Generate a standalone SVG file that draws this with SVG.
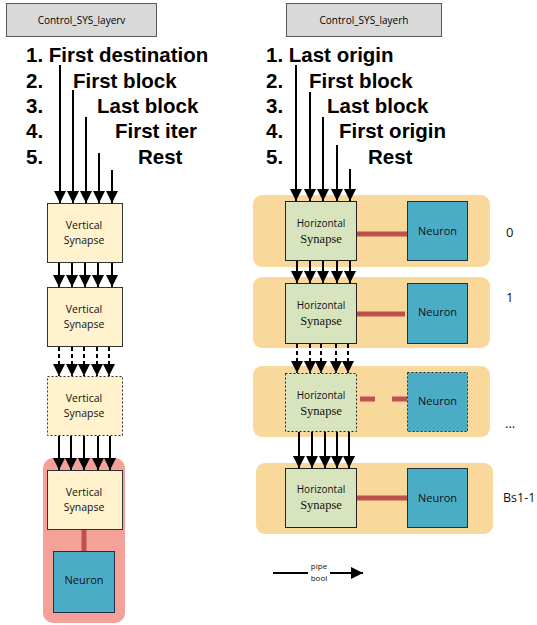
<svg xmlns="http://www.w3.org/2000/svg" width="537" height="625" viewBox="0 0 537 625">
<style>
.ctl{fill:#d9d9d9;stroke:#595959;stroke-width:1}
.ctlt{font-family:"Open Sans","Liberation Sans",sans-serif;font-size:10px;fill:#000}
.big{font-family:"Liberation Sans",Arial,sans-serif;font-size:20.5px;font-weight:bold;fill:#000}
.vs{fill:#fff2cc;stroke:#333;stroke-width:1}
.hs{fill:#d7e4bd;stroke:#222;stroke-width:1}
.nr{fill:#4bacc6;stroke:#1e3040;stroke-width:1}
.dot{stroke-dasharray:2 2}
.band{fill:#f9d89b}
.redband{fill:#f4a199}
.st{font-family:"Open Sans","Liberation Sans",sans-serif;font-size:10.5px;fill:#111;text-anchor:middle}
.ht{font-family:"Open Sans","Liberation Sans",sans-serif;font-size:10px;fill:#111;text-anchor:middle}
.ser{font-family:"Liberation Serif","Times New Roman",serif;font-size:12.5px;fill:#111;text-anchor:middle}
.nt{font-family:"Open Sans","Liberation Sans",sans-serif;font-size:11px;fill:#111;text-anchor:middle}
.lbl{font-family:"Open Sans","Liberation Sans",sans-serif;font-size:13px;fill:#111}
.leg{font-family:"Open Sans","Liberation Sans",sans-serif;font-size:8px;fill:#111;text-anchor:middle}
.ar{stroke:#000;stroke-width:2;fill:none;marker-end:url(#ah)}
.ard{stroke:#000;stroke-width:2;fill:none;stroke-dasharray:4 3;marker-end:url(#ah)}
.conn{stroke:#c0504d;stroke-width:5;fill:none}
</style>
<defs>
<marker id="ah" markerUnits="userSpaceOnUse" markerWidth="12" markerHeight="12" viewBox="0 0 10 10" refX="10" refY="5" orient="auto">
<path d="M0,0 L10,5 L0,10 z" fill="#000"/>
</marker>
</defs>

<!-- Left control -->
<g id="ctl_v">
<rect class="ctl" x="6.5" y="3.5" width="150" height="33"/>
<text class="ctlt" x="81.5" y="24" text-anchor="middle">Control_SYS_layerv</text>
</g>
<g id="list_v">
<text class="big" x="26" y="62">1. First destination</text>
<text class="big" x="26" y="88">2.</text><text class="big" x="73" y="88">First block</text>
<text class="big" x="26" y="113">3.</text><text class="big" x="97" y="113">Last block</text>
<text class="big" x="26" y="138">4.</text><text class="big" x="115" y="138">First iter</text>
<text class="big" x="26" y="164">5.</text><text class="big" x="138" y="164">Rest</text>
</g>

<!-- Right control -->
<g id="ctl_h">
<rect class="ctl" x="286.5" y="3.5" width="155" height="33"/>
<text class="ctlt" x="364" y="24" text-anchor="middle">Control_SYS_layerh</text>
</g>
<g id="list_h">
<text class="big" x="266" y="62">1. Last origin</text>
<text class="big" x="266" y="88">2.</text><text class="big" x="309" y="88">First block</text>
<text class="big" x="266" y="113">3.</text><text class="big" x="327" y="113">Last block</text>
<text class="big" x="266" y="138">4.</text><text class="big" x="339" y="138">First origin</text>
<text class="big" x="266" y="164">5.</text><text class="big" x="368" y="164">Rest</text>
</g>

<!-- Left column -->
<g id="redband"><rect class="redband" x="43" y="458" width="82" height="165" rx="10"/></g>
<g id="vsyn1"><rect class="vs" x="47.5" y="203.5" width="75" height="59"/>
<text class="st" x="84" y="229">Vertical</text><text class="st" x="84" y="244">Synapse</text></g>
<g id="vsyn2"><rect class="vs" x="47.5" y="287.5" width="75" height="59"/>
<text class="st" x="84" y="313">Vertical</text><text class="st" x="84" y="328">Synapse</text></g>
<g id="vsyn3"><rect class="vs dot" x="47.5" y="376.5" width="75" height="59"/>
<text class="st" x="84" y="402">Vertical</text><text class="st" x="84" y="417">Synapse</text></g>
<g id="vsyn4"><rect class="vs" x="47.5" y="470.5" width="75" height="59"/>
<text class="st" x="84" y="496">Vertical</text><text class="st" x="84" y="511">Synapse</text></g>
<g id="vneuron"><rect class="nr" x="53.5" y="551.5" width="61" height="61"/>
<text class="nt" x="84" y="584">Neuron</text></g>

<!-- Right column -->
<g id="row0"><rect class="band" x="253" y="195" width="237" height="72" rx="9"/>
<g id="hsyn0"><rect class="hs" x="285.5" y="201.5" width="71" height="59"/>
<text class="ht" x="321" y="227">Horizontal</text><text class="ser" x="321" y="243">Synapse</text></g>
<g id="hneu0"><rect class="nr" x="407.5" y="201.5" width="60" height="59"/>
<text class="nt" x="437.5" y="235">Neuron</text></g>
<text class="lbl" x="506" y="237">0</text></g>

<g id="row1"><rect class="band" x="253" y="277" width="237" height="71" rx="9"/>
<g id="hsyn1"><rect class="hs" x="285.5" y="283.5" width="71" height="60"/>
<text class="ht" x="321" y="309">Horizontal</text><text class="ser" x="321" y="325">Synapse</text></g>
<g id="hneu1"><rect class="nr" x="407.5" y="283.5" width="60" height="60"/>
<text class="nt" x="437.5" y="316">Neuron</text></g>
<text class="lbl" x="506" y="302">1</text></g>

<g id="row2"><rect class="band" x="253" y="366" width="237" height="71" rx="9"/>
<g id="hsyn2"><rect class="hs dot" x="285.5" y="373.5" width="71" height="58"/>
<text class="ht" x="321" y="399">Horizontal</text><text class="ser" x="321" y="415">Synapse</text></g>
<g id="hneu2"><rect class="nr dot" x="407.5" y="372.5" width="60" height="59"/>
<text class="nt" x="437.5" y="405">Neuron</text></g>
<text class="lbl" x="505" y="428">...</text></g>

<g id="row3"><rect class="band" x="256" y="463" width="237" height="71" rx="9"/>
<g id="hsyn3"><rect class="hs" x="285.5" y="468.5" width="71" height="59"/>
<text class="ht" x="321" y="493">Horizontal</text><text class="ser" x="321" y="509">Synapse</text></g>
<g id="hneu3"><rect class="nr" x="407.5" y="468.5" width="60" height="59"/>
<text class="nt" x="437.5" y="502">Neuron</text></g>
<text class="lbl" x="503" y="502" style="font-size:12.5px">Bs1-1</text></g>

<!-- Legend -->
<g id="legend">
<line x1="273" y1="573" x2="308" y2="573" stroke="#000" stroke-width="2"/>
<text class="leg" x="319" y="569">pipe</text>
<text class="leg" x="319" y="581">bool</text>
<line class="ar" x1="330" y1="573" x2="363" y2="573"/>
</g>

<!-- Connectors -->
<g id="connectors">
<line class="ar" x1="60" y1="65" x2="60" y2="203"/>
<line class="ar" x1="73" y1="90" x2="73" y2="203"/>
<line class="ar" x1="86" y1="117" x2="86" y2="203"/>
<line class="ar" x1="99" y1="153" x2="99" y2="203"/>
<line class="ar" x1="112" y1="170" x2="112" y2="203"/>

<line class="ar" x1="59" y1="263" x2="59" y2="287"/>
<line class="ar" x1="72" y1="263" x2="72" y2="287"/>
<line class="ar" x1="85" y1="263" x2="85" y2="287"/>
<line class="ar" x1="98" y1="263" x2="98" y2="287"/>
<line class="ar" x1="112" y1="263" x2="112" y2="287"/>

<line class="ard" x1="59" y1="347" x2="59" y2="376"/>
<line class="ard" x1="72" y1="347" x2="72" y2="376"/>
<line class="ard" x1="84" y1="347" x2="84" y2="376"/>
<line class="ard" x1="97" y1="347" x2="97" y2="376"/>
<line class="ard" x1="109" y1="347" x2="109" y2="376"/>

<line class="ar" x1="59" y1="436" x2="59" y2="470"/>
<line class="ar" x1="71" y1="436" x2="71" y2="470"/>
<line class="ar" x1="84" y1="436" x2="84" y2="470"/>
<line class="ar" x1="98" y1="436" x2="98" y2="470"/>
<line class="ar" x1="110" y1="436" x2="110" y2="470"/>

<line class="conn" x1="84" y1="530" x2="84" y2="551"/>

<line class="ar" x1="296" y1="65" x2="296" y2="201"/>
<line class="ar" x1="310" y1="92" x2="310" y2="201"/>
<line class="ar" x1="323" y1="117" x2="323" y2="201"/>
<line class="ar" x1="337" y1="145" x2="337" y2="201"/>
<line class="ar" x1="350" y1="169" x2="350" y2="201"/>

<line class="ar" x1="297" y1="261" x2="297" y2="283"/>
<line class="ar" x1="310" y1="261" x2="310" y2="283"/>
<line class="ar" x1="323" y1="261" x2="323" y2="283"/>
<line class="ar" x1="337" y1="261" x2="337" y2="283"/>
<line class="ar" x1="350" y1="261" x2="350" y2="283"/>

<line class="ard" x1="297" y1="344" x2="297" y2="373"/>
<line class="ard" x1="310" y1="344" x2="310" y2="373"/>
<line class="ard" x1="321" y1="344" x2="321" y2="373"/>
<line class="ard" x1="336" y1="344" x2="336" y2="373"/>
<line class="ard" x1="348" y1="344" x2="348" y2="373"/>

<line class="ar" x1="299" y1="432" x2="299" y2="468"/>
<line class="ar" x1="312" y1="432" x2="312" y2="468"/>
<line class="ar" x1="325" y1="432" x2="325" y2="468"/>
<line class="ar" x1="337" y1="432" x2="337" y2="468"/>
<line class="ar" x1="349" y1="432" x2="349" y2="468"/>

<line class="conn" x1="357" y1="234" x2="407" y2="234"/>
<line class="conn" x1="357" y1="314" x2="405" y2="314"/>
<line class="conn" x1="360" y1="399" x2="375" y2="399"/>
<line class="conn" x1="392" y1="399" x2="407" y2="399"/>
<line class="conn" x1="357" y1="498" x2="407" y2="498"/>
</g>
</svg>
